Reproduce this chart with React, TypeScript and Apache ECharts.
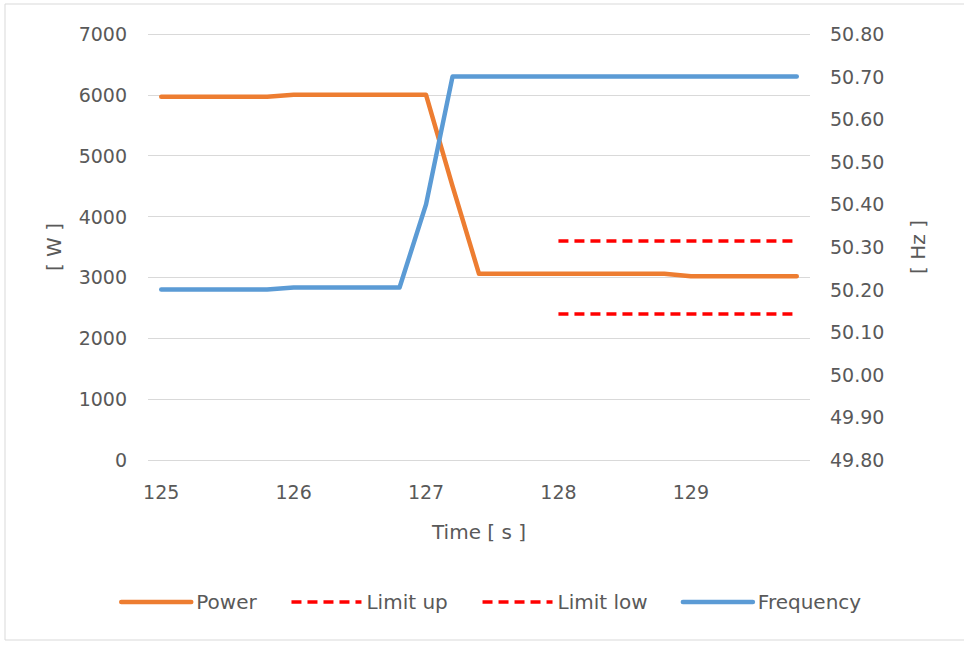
import React, { useEffect, useRef } from "react";
import * as echarts from "echarts";

const times = ["125", "125.2", "125.4", "125.6", "125.8", "126", "126.2", "126.4", "126.6", "126.8", "127", "127.2", "127.4", "127.6", "127.8", "128", "128.2", "128.4", "128.6", "128.8", "129", "129.2", "129.4", "129.6", "129.8"];
const power = [5970, 5970, 5970, 5970, 5970, 6000, 6000, 6000, 6000, 6000, 6000, 4500, 3060, 3060, 3060, 3060, 3060, 3060, 3060, 3060, 3020, 3020, 3020, 3020, 3020];
const limitUp = [null, null, null, null, null, null, null, null, null, null, null, null, null, null, null, 3600, 3600, 3600, 3600, 3600, 3600, 3600, 3600, 3600, 3600];
const limitLow = [null, null, null, null, null, null, null, null, null, null, null, null, null, null, null, 2400, 2400, 2400, 2400, 2400, 2400, 2400, 2400, 2400, 2400];
const frequency = [50.2, 50.2, 50.2, 50.2, 50.2, 50.205, 50.205, 50.205, 50.205, 50.205, 50.4, 50.7, 50.7, 50.7, 50.7, 50.7, 50.7, 50.7, 50.7, 50.7, 50.7, 50.7, 50.7, 50.7, 50.7];
const legendNames = ["Power", "Limit up", "Limit low", "Frequency"];

const FONT = "DejaVu Sans";
const TXT = "#595959";
const GRID = "#D9D9D9";

export default function App() {
  const ref = useRef<HTMLDivElement>(null);
  useEffect(() => {
    document.body.style.margin = "0";
    const chart = echarts.init(ref.current!, null, { renderer: "svg" });
    const labelStyle = { color: TXT, fontFamily: FONT, fontSize: 19 };
    const nameStyle = { color: TXT, fontFamily: FONT, fontSize: 20 };
    const legendWidths = [4.5, 3.5, 3.5, 4.5];
    chart.setOption({
      animation: false,
      backgroundColor: "#fff",
      textStyle: { fontFamily: FONT, color: TXT },
      graphic: [
        {
          type: "rect",
          shape: { x: 5, y: 4, width: 980, height: 636 },
          style: { fill: "none", stroke: GRID, lineWidth: 1 },
          silent: true,
        },
      ],
      grid: { left: 148, right: 154, top: 34, bottom: 188 },
      legend: {
        left: 114,
        top: 587,
        itemWidth: 70,
        itemHeight: 14,
        itemGap: 33,
        itemStyle: { opacity: 0 },
        textStyle: { ...nameStyle },
        data: legendNames.map((n, i) => ({ name: n, lineStyle: { width: legendWidths[i] } })),
      },
      xAxis: {
        type: "category",
        data: times,
        boundaryGap: true,
        name: "Time [ s ]",
        nameLocation: "middle",
        nameGap: 62,
        nameTextStyle: { ...nameStyle },
        axisLine: { show: false },
        axisTick: { show: false },
        axisLabel: { ...labelStyle, interval: 4, margin: 22 },
        splitLine: { show: false },
      },
      yAxis: [
        {
          type: "value",
          min: 0,
          max: 7000,
          interval: 1000,
          name: "[ W ]",
          nameLocation: "middle",
          nameGap: 84,
          nameRotate: 90,
          nameTextStyle: { ...nameStyle },
          axisLine: { show: false },
          axisTick: { show: false },
          axisLabel: { ...labelStyle, margin: 21, formatter: (v: number) => String(v) },
          splitLine: { show: true, lineStyle: { color: GRID, width: 1 } },
        },
        {
          type: "value",
          min: 49.8,
          max: 50.8,
          interval: 0.1,
          name: "[ Hz ]",
          nameLocation: "middle",
          nameGap: 98,
          nameRotate: 90,
          nameTextStyle: { ...nameStyle },
          axisLine: { show: false },
          axisTick: { show: false },
          axisLabel: { ...labelStyle, margin: 20, formatter: (v: number) => v.toFixed(2) },
          splitLine: { show: false },
        },
      ],
      series: [
        {
          name: "Power",
          type: "line",
          yAxisIndex: 0,
          data: power,
          symbol: "none",
          lineStyle: { color: "#ED7D31", width: 4.5, cap: "round", join: "round" },
          itemStyle: { color: "#ED7D31" },
        },
        {
          name: "Limit up",
          type: "line",
          yAxisIndex: 0,
          data: limitUp,
          symbol: "none",
          lineStyle: { color: "#FF0000", width: 3.5, type: [10, 6] },
          itemStyle: { color: "#FF0000" },
        },
        {
          name: "Limit low",
          type: "line",
          yAxisIndex: 0,
          data: limitLow,
          symbol: "none",
          lineStyle: { color: "#FF0000", width: 3.5, type: [10, 6] },
          itemStyle: { color: "#FF0000" },
        },
        {
          name: "Frequency",
          type: "line",
          yAxisIndex: 1,
          data: frequency,
          symbol: "none",
          lineStyle: { color: "#5B9BD5", width: 4.5, cap: "round", join: "round" },
          itemStyle: { color: "#5B9BD5" },
        },
      ],
    });
    return () => chart.dispose();
  }, []);
  return <div ref={ref} style={{ width: 964, height: 648 }} />;
}
